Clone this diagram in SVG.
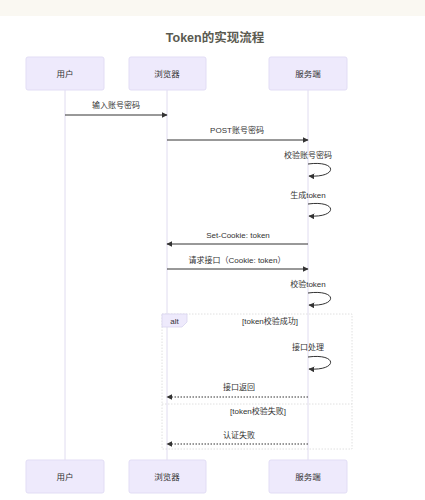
<svg xmlns="http://www.w3.org/2000/svg" width="425" height="500" viewBox="0 0 425 500">
<style>
.actor rect{fill:#eeeafc;stroke:#e2ddf5;stroke-width:1}
text{font-family:"Liberation Sans","Noto Sans CJK SC",sans-serif;fill:#333}
.at{font-size:8.5px;text-anchor:middle;dominant-baseline:central}
.ml{font-size:8px;text-anchor:middle}
.life{stroke:#e0dcf0;stroke-width:1}
.msg{stroke:#333;stroke-width:1;fill:none}
.dash{stroke-dasharray:1.5,1.5}
.loop{fill:none;stroke:#333;stroke-width:1}
.frame{fill:none;stroke:#d8d8d8;stroke-width:0.8;stroke-dasharray:1.5,1.5}
</style>
<defs>
<marker id="ah" viewBox="0 0 10 10" refX="9" refY="5" markerWidth="6" markerHeight="6" orient="auto-start-reverse" markerUnits="userSpaceOnUse">
<path d="M0,0 L10,5 L0,10 z" fill="#333"/>
</marker>
</defs>
<rect x="0" y="0" width="425" height="16" fill="#faf8f2"/>
<text x="215" y="42" style="font-size:12.5px;font-weight:bold;text-anchor:middle;fill:#5a5a50">Token的实现流程</text>
<g id="lifelines">
<line class="life" x1="65" y1="90" x2="65" y2="460"/>
<line class="life" x1="167" y1="90" x2="167" y2="460"/>
<line class="life" x1="308" y1="90" x2="308" y2="460"/>
</g>
<g id="alt-frame">
<rect class="frame" x="162" y="314" width="190" height="135"/>
<path d="M162,314 H187 V322 L182,327 H162 Z" fill="#eeeafc" stroke="#d8d4ef" stroke-width="0.8"/>
<text x="174.5" y="323.5" style="font-size:8px;text-anchor:middle">alt</text>
<text x="270" y="324" class="ml">[token校验成功]</text>
<line class="frame" x1="162" y1="404" x2="352" y2="404"/>
<text x="258" y="414" class="ml">[token校验失败]</text>
</g>
<g id="actor-user-top" class="actor"><rect x="26" y="57" width="78" height="33" rx="2"/><text class="at" x="65" y="74">用户</text></g>
<g id="actor-browser-top" class="actor"><rect x="129" y="57" width="77" height="33" rx="2"/><text class="at" x="167" y="74">浏览器</text></g>
<g id="actor-server-top" class="actor"><rect x="269" y="57" width="78" height="33" rx="2"/><text class="at" x="308" y="74">服务端</text></g>
<g id="actor-user-bottom" class="actor"><rect x="26" y="460" width="78" height="33" rx="2"/><text class="at" x="65" y="477">用户</text></g>
<g id="actor-browser-bottom" class="actor"><rect x="129" y="460" width="77" height="33" rx="2"/><text class="at" x="167" y="477">浏览器</text></g>
<g id="actor-server-bottom" class="actor"><rect x="269" y="460" width="78" height="33" rx="2"/><text class="at" x="308" y="477">服务端</text></g>
<g id="connectors">
<text class="ml" x="116" y="108">输入账号密码</text>
<line class="msg" x1="65" y1="115" x2="167" y2="115" marker-end="url(#ah)"/>
<text class="ml" x="237" y="133">POST账号密码</text>
<line class="msg" x1="167" y1="140" x2="308" y2="140" marker-end="url(#ah)"/>
<text class="ml" x="308" y="158">校验账号密码</text>
<path class="loop" d="M308,164 C338,160 338,178 309,176" marker-end="url(#ah)"/>
<text class="ml" x="308" y="198">生成token</text>
<path class="loop" d="M308,204 C338,200 338,218 309,216" marker-end="url(#ah)"/>
<text class="ml" x="238" y="238">Set-Cookie: token</text>
<line class="msg" x1="308" y1="244" x2="167" y2="244" marker-end="url(#ah)"/>
<text class="ml" x="237" y="263">请求接口（Cookie: token）</text>
<line class="msg" x1="167" y1="269" x2="308" y2="269" marker-end="url(#ah)"/>
<text class="ml" x="308" y="287">校验token</text>
<path class="loop" d="M308,293 C338,289 338,307 309,305" marker-end="url(#ah)"/>
<text class="ml" x="308" y="350">接口处理</text>
<path class="loop" d="M308,357 C338,353 338,371 309,369" marker-end="url(#ah)"/>
<text class="ml" x="239" y="390">接口返回</text>
<line class="msg dash" x1="308" y1="397" x2="167" y2="397" marker-end="url(#ah)"/>
<text class="ml" x="239" y="438">认证失败</text>
<line class="msg dash" x1="308" y1="444" x2="167" y2="444" marker-end="url(#ah)"/>
</g>
</svg>
